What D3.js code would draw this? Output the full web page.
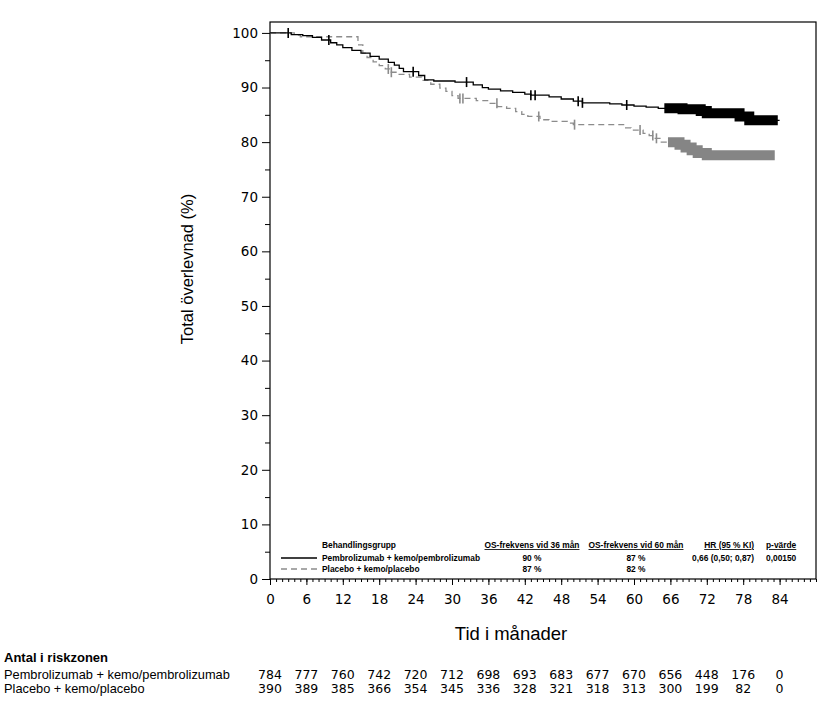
<!DOCTYPE html>
<html>
<head>
<meta charset="utf-8">
<script src="https://cdn.jsdelivr.net/npm/d3@7"></script>
<style>
	body { margin: 0; background: #fff; }
	svg { display: block; }
</style>
</head>
<body>
<svg id="chart"></svg>
<script>
// Kaplan-Meier steps (months, % alive)
const pembroTime = [0, 3.5, 5.4, 7, 8.5, 10, 11, 12, 13.5, 15, 16.5, 18, 19.5, 20.5, 21.3, 22, 24.5, 25.5, 27, 30.5, 33.5, 35, 36, 38, 40, 42, 43, 46, 48, 50, 51.5, 56, 58, 60, 62, 64, 68, 71, 72, 77.4, 79]
const pembroSurv = [100, 99.7, 99.5, 99.2, 98.7, 98.2, 97.8, 97.3, 96.8, 96.3, 95.7, 95.2, 94.6, 94.1, 93.5, 92.9, 92.2, 91.4, 91.2, 91.0, 90.5, 90.0, 89.7, 89.4, 89.1, 88.8, 88.6, 88.3, 87.9, 87.5, 87.2, 87.0, 86.8, 86.6, 86.4, 86.2, 86.0, 85.7, 85.3, 84.7, 84.0]
const pembroEnd = 84
const pembroCensor = [3, 9.7, 23.6, 32.4, 43, 43.7, 50.8, 51.5, 58.8]
const pembroDense = [65, 83.7]

const placeboTime = [0, 4, 5, 14.5, 15.3, 16, 17, 18, 19, 20, 21, 23, 25, 26.5, 28, 29, 30, 31, 34, 36, 37.5, 39, 40.5, 41.5, 42.5, 44.5, 46, 49, 50, 58.5, 59.5, 61.5, 62.5, 63.5, 64.5, 67.5, 68.5, 69.5, 70.5, 72]
const placeboSurv = [100, 99.6, 99.3, 97.8, 96.3, 95.5, 94.7, 94.0, 93.4, 92.8, 92.4, 91.9, 91.3, 90.6, 89.9, 89.3, 88.5, 88.0, 87.6, 87.1, 86.5, 86.2, 85.6, 85.1, 84.7, 84.1, 83.8, 83.5, 83.2, 82.6, 82.2, 81.6, 81.2, 80.7, 80.0, 79.5, 79.0, 78.5, 78.0, 77.6]
const placeboEnd = 83.2
const placeboCensor = [19.5, 20.0, 31.3, 31.8, 37.4, 44.3, 50.2, 61, 63.1, 63.7]
const placeboDense = [65.6, 83.2]

const xTicks = [0, 6, 12, 18, 24, 30, 36, 42, 48, 54, 60, 66, 72, 78, 84]
const yTicks = [0, 10, 20, 30, 40, 50, 60, 70, 80, 90, 100]

const groupNames = ['Pembrolizumab + kemo/pembrolizumab', 'Placebo + kemo/placebo']
const riskPembro = [784, 777, 760, 742, 720, 712, 698, 693, 683, 677, 670, 656, 448, 176, 0]
const riskPlacebo = [390, 389, 385, 366, 354, 345, 336, 328, 321, 318, 313, 300, 199, 82, 0]

const legendHeaders = ['OS-frekvens vid 36 mån', 'OS-frekvens vid 60 mån', 'HR (95 % KI)', 'p-värde']
const os36 = ['90 %', '87 %']
const os60 = ['87 %', '82 %']
const hrText = ['0,66 (0,50; 0,87)', '']
const pText = ['0,00150', '']

const W = 840, H = 704
const plot = { left: 270, top: 22, right: 816, bottom: 579 }

const svg = d3.select('#chart').attr('width', W).attr('height', H)

const x = d3.scaleLinear().domain([0, 90]).range([plot.left, plot.right])
const y = d3.scaleLinear().domain([0, 102]).range([plot.bottom, plot.top])

// frame
svg.append('rect')
	.attr('x', plot.left).attr('y', plot.top)
	.attr('width', plot.right - plot.left).attr('height', plot.bottom - plot.top)
	.attr('fill', 'none').attr('stroke', '#000').attr('stroke-width', 1.2)

// axes
const tickFont = '"DejaVu Sans", Verdana, sans-serif'

svg.append('g')
	.attr('transform', `translate(0,${plot.bottom})`)
	.call(d3.axisBottom(x).tickValues(d3.range(0, 91, 1)).tickSize(3).tickFormat(''))
	.call(g => g.select('.domain').remove())

svg.append('g')
	.attr('transform', `translate(0,${plot.bottom})`)
	.call(d3.axisBottom(x).tickValues(xTicks).tickSize(6).tickPadding(9))
	.call(g => g.select('.domain').remove())
	.selectAll('text').attr('font-family', tickFont).attr('font-size', 13.5).attr('fill', '#000')

svg.append('g')
	.attr('transform', `translate(${plot.left},0)`)
	.call(d3.axisLeft(y).tickValues(d3.range(5, 100, 10)).tickSize(5).tickFormat(''))
	.call(g => g.select('.domain').remove())

svg.append('g')
	.attr('transform', `translate(${plot.left},0)`)
	.call(d3.axisLeft(y).tickValues(yTicks).tickSize(8).tickPadding(4))
	.call(g => g.select('.domain').remove())
	.selectAll('text').attr('font-family', tickFont).attr('font-size', 13.5).attr('fill', '#000')

svg.selectAll('.tick line').attr('stroke', '#000')

// axis titles
svg.append('text')
	.attr('transform', 'translate(193,269) rotate(-90)')
	.attr('text-anchor', 'middle')
	.attr('font-family', '"Liberation Sans", Arial, sans-serif')
	.attr('font-size', 16.5)
	.text('Total överlevnad (%)')

svg.append('text')
	.attr('x', 511).attr('y', 640)
	.attr('text-anchor', 'middle')
	.attr('font-family', '"Liberation Sans", Arial, sans-serif')
	.attr('font-size', 18.5)
	.text('Tid i månader')

// curves
function survAt(times, survs, t) {
	let s = survs[0]
	times.forEach((tt, i) => { if (tt <= t) s = survs[i] })
	return s
}

function curvePoints(times, survs, end) {
	const pts = times.map((t, i) => [t, survs[i]])
	pts.push([end, survs[survs.length - 1]])
	return pts
}

function densePoints(times, survs, range) {
	const pts = [[range[0], survAt(times, survs, range[0])]]
	times.forEach((t, i) => { if (t > range[0] && t < range[1]) pts.push([t, survs[i]]) })
	pts.push([range[1], survAt(times, survs, range[1])])
	return pts
}

const line = d3.line().x(d => x(d[0])).y(d => y(d[1])).curve(d3.curveStepAfter)

const groups = [
	{ time: pembroTime, surv: pembroSurv, end: pembroEnd, censor: pembroCensor, dense: pembroDense, color: '#000', dash: null, band: '#000' },
	{ time: placeboTime, surv: placeboSurv, end: placeboEnd, censor: placeboCensor, dense: placeboDense, color: '#8c8c8c', dash: '6,4', band: '#858585' }
]

groups.slice().reverse().forEach(g => {
	svg.append('path')
		.attr('d', line(curvePoints(g.time, g.surv, g.end)))
		.attr('fill', 'none')
		.attr('stroke', g.color)
		.attr('stroke-width', 1.3)
		.attr('stroke-dasharray', g.dash)

	svg.append('g').selectAll('line')
		.data(g.censor)
		.enter().append('line')
		.attr('x1', d => x(d)).attr('x2', d => x(d))
		.attr('y1', d => y(survAt(g.time, g.surv, d)) - 5)
		.attr('y2', d => y(survAt(g.time, g.surv, d)) + 5)
		.attr('stroke', g.color)
		.attr('stroke-width', 1.6)

	// heavily censored tail, drawn as a band of censor marks
	svg.append('path')
		.attr('d', line(densePoints(g.time, g.surv, g.dense)))
		.attr('fill', 'none')
		.attr('stroke', g.band)
		.attr('stroke-width', 10)
		.attr('stroke-linejoin', 'miter')
})

// legend inside the plot
const legendFont = '"Liberation Sans", Arial, sans-serif'
const legend = svg.append('g')
	.attr('font-family', legendFont)
	.attr('font-size', 8.4)
	.attr('font-weight', 'bold')

legend.append('text').attr('x', 322).attr('y', 548).text('Behandlingsgrupp')
legend.append('text').attr('x', 532).attr('y', 548).attr('text-anchor', 'middle').attr('text-decoration', 'underline').text(legendHeaders[0])
legend.append('text').attr('x', 636).attr('y', 548).attr('text-anchor', 'middle').attr('text-decoration', 'underline').text(legendHeaders[1])
legend.append('text').attr('x', 754).attr('y', 548).attr('text-anchor', 'end').attr('text-decoration', 'underline').text(legendHeaders[2])
legend.append('text').attr('x', 766).attr('y', 548).attr('text-decoration', 'underline').text(legendHeaders[3])

groupNames.forEach((name, i) => {
	const yy = 561 + i * 11
	legend.append('line')
		.attr('x1', 281).attr('x2', 317)
		.attr('y1', yy - 3).attr('y2', yy - 3)
		.attr('stroke', groups[i].color)
		.attr('stroke-width', 1.3)
		.attr('stroke-dasharray', groups[i].dash)
	legend.append('text').attr('x', 322).attr('y', yy).text(name)
	legend.append('text').attr('x', 532).attr('y', yy).attr('text-anchor', 'middle').text(os36[i])
	legend.append('text').attr('x', 636).attr('y', yy).attr('text-anchor', 'middle').text(os60[i])
	legend.append('text').attr('x', 754).attr('y', yy).attr('text-anchor', 'end').text(hrText[i])
	legend.append('text').attr('x', 766).attr('y', yy).text(pText[i])
})

// number at risk
const risk = svg.append('g')
risk.append('text')
	.attr('x', 4).attr('y', 662)
	.attr('font-family', legendFont).attr('font-size', 13).attr('font-weight', 'bold')
	.text('Antal i riskzonen')

;[riskPembro, riskPlacebo].forEach((vals, i) => {
	const yy = 679 + i * 14
	risk.append('text')
		.attr('x', 4).attr('y', yy)
		.attr('font-family', legendFont).attr('font-size', 12.8)
		.text(groupNames[i])
	risk.append('g').selectAll('text')
		.data(vals)
		.enter().append('text')
		.attr('x', (d, j) => x(xTicks[j]))
		.attr('y', yy)
		.attr('text-anchor', 'middle')
		.attr('font-family', tickFont).attr('font-size', 12.5)
		.text(d => d)
})
</script>
</body>
</html>
